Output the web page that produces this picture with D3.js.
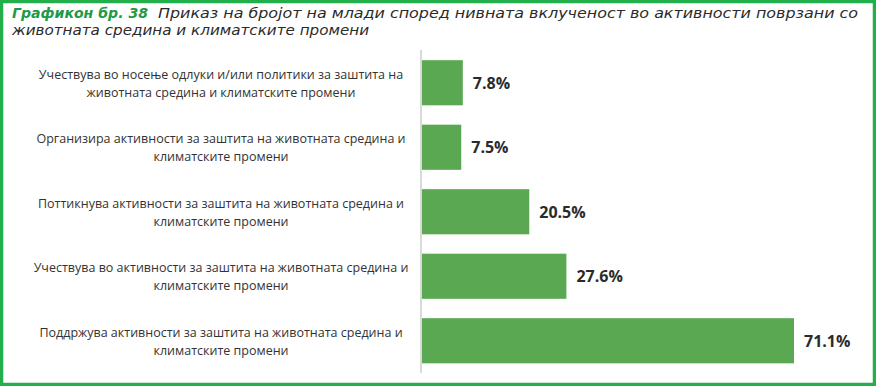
<!DOCTYPE html>
<html><head><meta charset="utf-8">
<script src="https://cdn.jsdelivr.net/npm/d3@7"></script>
<style>html,body{margin:0;padding:0;background:#fff;}svg{display:block;}</style>
</head><body>
<script>
const categories = [
  ["Учествува во носење одлуки и/или политики за заштита на", "животната средина и климатските промени"],
  ["Организира активности за заштита на животната средина и", "климатските промени"],
  ["Поттикнува активности за заштита на животната средина и", "климатските промени"],
  ["Учествува во активности за заштита на животната средина и", "климатските промени"],
  ["Поддржува активности за заштита на животната средина и", "климатските промени"]
];
const values = [7.8, 7.5, 20.5, 27.6, 71.1];
const valueLabels = ["7.8%", "7.5%", "20.5%", "27.6%", "71.1%"];
const titleBold = "Графикон бр. 38";
const titleLine1 = "Приказ на бројот на млади според нивната вклученост во активности поврзани со";
const titleLine2 = "животната средина и климатските промени";

const W = 876, H = 386;
const svg = d3.select("body").append("svg").attr("width", W).attr("height", H);

svg.append("rect").attr("x", 1.5).attr("y", 1.5).attr("width", W - 3).attr("height", H - 3)
  .attr("fill", "#fff").attr("stroke", "#22AE4B").attr("stroke-width", 3.5);

// Title
const tFont = "'DejaVu Sans Condensed','Open Sans',sans-serif";
const tSize = 14.5;
svg.append("text").attr("x", 12).attr("y", 18)
  .attr("font-family", tFont).attr("font-size", tSize).attr("font-style", "italic")
  .attr("font-weight", "bold").attr("fill", "#1E9A48")
  .attr("textLength", 136).attr("lengthAdjust", "spacingAndGlyphs").text(titleBold);
svg.append("text").attr("x", 158).attr("y", 18)
  .attr("font-family", tFont).attr("font-size", tSize).attr("font-style", "italic")
  .attr("fill", "#2b2b2b").attr("textLength", 700).attr("lengthAdjust", "spacingAndGlyphs")
  .text(titleLine1);
svg.append("text").attr("x", 12).attr("y", 34.5)
  .attr("font-family", tFont).attr("font-size", tSize).attr("font-style", "italic")
  .attr("fill", "#2b2b2b").attr("textLength", 357).attr("lengthAdjust", "spacingAndGlyphs")
  .text(titleLine2);

const x0 = 422;
const x = d3.scaleLinear().domain([0, 71.1]).range([x0, 794]);
const y = d3.scaleBand().domain(d3.range(values.length)).range([50.5, 373]).paddingInner(0.3).paddingOuter(0.15);

svg.append("line").attr("x1", x0 - 1).attr("x2", x0 - 1).attr("y1", 50).attr("y2", 373)
  .attr("stroke", "#d9d9d9").attr("stroke-width", 2);

svg.selectAll("rect.bar").data(values).enter().append("rect").attr("class", "bar")
  .attr("x", x0).attr("y", (d, i) => y(i)).attr("width", d => x(d) - x0).attr("height", y.bandwidth())
  .attr("fill", "#5BA853");

svg.selectAll("text.val").data(values).enter().append("text").attr("class", "val")
  .attr("x", d => x(d) + 10).attr("y", (d, i) => y(i) + y.bandwidth() / 2 + 6)
  .attr("font-family", "'Open Sans',sans-serif").attr("font-weight", "bold").attr("font-size", 16)
  .attr("fill", "#2b2b2b").text((d, i) => valueLabels[i]);

const cat = svg.selectAll("text.cat").data(categories).enter().append("text").attr("class", "cat")
  .attr("x", 221).attr("y", (d, i) => y(i) + y.bandwidth() / 2 - 4)
  .attr("text-anchor", "middle").attr("font-family", "'Open Sans',sans-serif").attr("font-size", 12.5)
  .attr("fill", "#333");
cat.each(function(d) {
  const t = d3.select(this);
  d.forEach((line, j) => t.append("tspan").attr("x", 221).attr("dy", j === 0 ? 0 : 18).text(line));
});
</script>
</body></html>
